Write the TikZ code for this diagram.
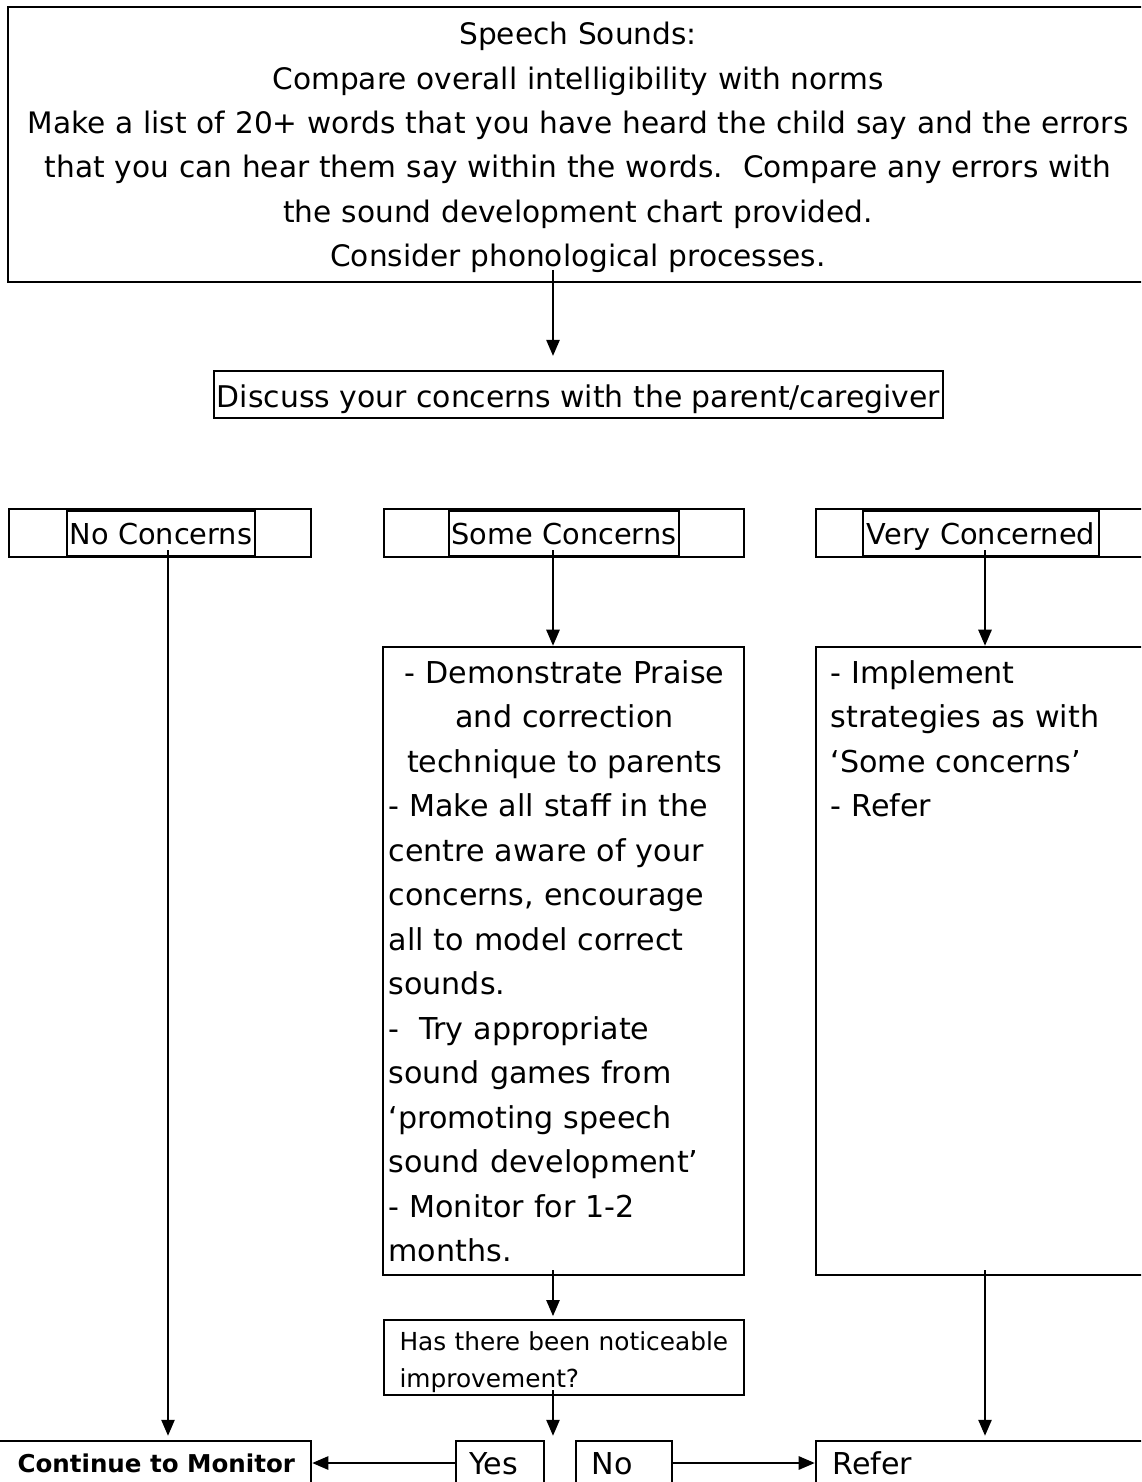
\documentclass[tikz,border=0pt]{standalone}
\usepackage{fontspec}
\setmainfont{DejaVu Sans}
\usetikzlibrary{arrows.meta,fit,calc}
\begin{document}
\begin{tikzpicture}[x=0.375pt,y=-0.375pt,
  box/.style={draw,line width=0.95pt,inner sep=0pt},
  txt/.style={inner sep=0pt,font=\fontsize{10.8}{16.7}\selectfont},
  bigtxt/.style={inner sep=0pt,font=\fontsize{11.3}{16.7}\selectfont},
  frm/.style={draw,line width=0.55pt,inner ysep=0pt,inner xsep=1pt},
  arr/.style={line width=0.6pt,-{Triangle[length=6pt,width=5pt]}},
]
\useasboundingbox (0,0) rectangle (1141,1482);
\clip (0,0) rectangle (1141,1482);

% top box
\node[box,fit={(8,7)(1150,282)}] (top) {};
\node[inner sep=0pt,font=\fontsize{11.1}{16.6}\selectfont,text width=420pt,align=center,anchor=base] (toptxt) at (578,45)
  {Speech Sounds:\\Compare overall intelligibility with norms\\Make a list of 20+ words that you have heard the child say and the errors\\that you can hear them say within the words.\ \ Compare any errors with\\the sound development chart provided.\\Consider phonological processes.};

% discuss
\node[txt,font=\fontsize{11.2}{16.7}\selectfont,frm,line width=0.8pt,text height=13.9pt,text depth=3.75pt,minimum width=272.6pt,anchor=base] (disc) at (578.5,408)
  {Discuss your concerns with the parent/caregiver};

% concern row
\node[box,fit={(9,509)(311,557)}] (nobox) {};
\node[box,fit={(384,509)(744,557)}] (somebox) {};
\node[box,fit={(816,509)(1160,557)}] (verybox) {};
\node[txt,frm,text height=12.75pt,text depth=4.1pt,minimum width=70.5pt,anchor=base] (nc) at (161,545) {No Concerns};
\node[txt,frm,text height=12.75pt,text depth=4.1pt,minimum width=85.5pt,anchor=base] (sc) at (564,545) {Some Concerns};
\node[txt,frm,text height=12.75pt,text depth=4.1pt,minimum width=88.5pt,anchor=base] (vc) at (981,545) {Very Concerned};

% big boxes
\node[box,fit={(383,647)(744,1275)}] (sbox) {};
\node[bigtxt,text width=132pt,align=left,anchor=base west] (stxt) at (388,683)
  {\makebox[\linewidth]{- Demonstrate Praise}\\
   \makebox[\linewidth]{and correction}\\
   \makebox[\linewidth]{technique to parents}\\
   - Make all staff in the\\
   centre aware of your\\
   concerns, encourage\\
   all to model correct\\
   sounds.\\
   -\ \ Try appropriate\\
   sound games from\\
   `promoting speech\\
   sound development'\\
   - Monitor for 1-2\\
   months.};
\node[box,fit={(816,647)(1160,1275)}] (vbox) {};
\node[bigtxt,text width=115pt,align=left,anchor=base west] (vtxt) at (830,683)
  {- Implement\\strategies as with\\`Some concerns'\\- Refer};

% question box
\node[box,fit={(384,1320)(744,1395)}] (has) {};
\node[inner sep=0pt,font=\fontsize{9.3}{13.9}\selectfont,text width=125pt,align=left,anchor=base west] (hastxt) at (399,1350)
  {Has there been noticeable\\improvement?};

% bottom row
\node[box,fit={(-5,1441)(311,1520)}] (cont) {};
\node[box,fit={(456,1441)(544,1520)}] (yes) {};
\node[box,fit={(576,1441)(672,1520)}] (no) {};
\node[box,fit={(816,1441)(1160,1520)}] (refer) {};
\node[inner sep=0pt,font=\bfseries\fontsize{9.2}{12}\selectfont,anchor=base west] (conttxt) at (17,1472) {Continue to Monitor};
\node[bigtxt,anchor=base west] (yestxt) at (469,1474) {Yes};
\node[bigtxt,anchor=base west] (notxt) at (591,1474) {No};
\node[bigtxt,anchor=base west] (refertxt) at (832,1474) {Refer};

% arrow start points
\coordinate (t0) at (553,270);
\coordinate (n0) at (168,550);
\coordinate (s0) at (553,550);
\coordinate (v0) at (985,550);
\coordinate (s1) at (553,1270);
\coordinate (v1) at (985,1270);
\coordinate (h1) at (553,1390);
\coordinate (row) at (0,1463);

\draw[arr,shorten >=5.25pt] (t0) -- (t0 |- disc.north);
\draw[arr,shorten >=1.5pt] (n0) -- (n0 |- cont.north);
\draw[arr] (s0) -- (s0 |- sbox.north);
\draw[arr] (v0) -- (v0 |- vbox.north);
\draw[arr,shorten >=1pt] (s1) -- (s1 |- has.north);
\draw[arr,shorten >=1.5pt] (v1) -- (v1 |- refer.north);
\draw[arr,shorten >=1.5pt] (h1) -- (h1 |- yes.north);
\draw[arr] (yes.west |- row) -- (cont.east |- row);
\draw[arr] (no.east |- row) -- (refer.west |- row);
\end{tikzpicture}
\end{document}
